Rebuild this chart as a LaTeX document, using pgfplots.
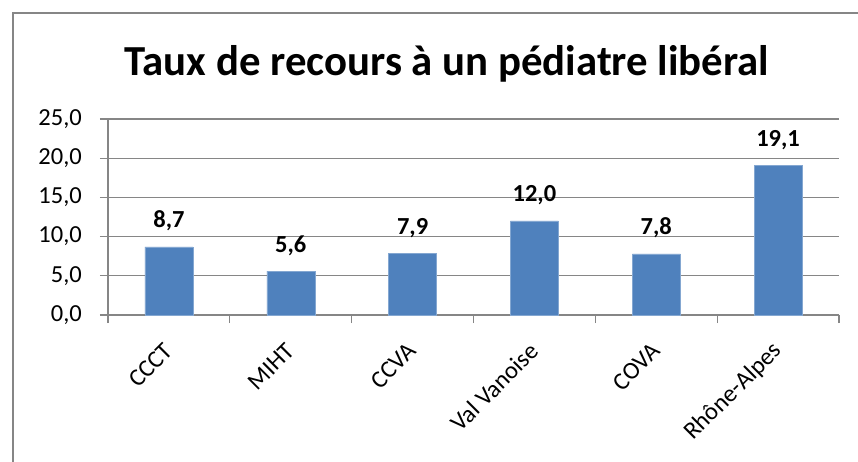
\documentclass[border=0pt]{standalone}
\usepackage{fontspec}
\setmainfont{Carlito}
\usepackage{pgfplots}
\pgfplotsset{compat=1.18}
\definecolor{barblue}{HTML}{4F81BD}
\definecolor{axgray}{HTML}{868686}
\begin{document}
\begin{tikzpicture}
\draw[axgray, line width=1.5pt] (13pt,-20pt) -- (13pt,448pt) -- (870pt,448pt);
\node[font=\bfseries\fontsize{42.8}{50}\selectfont, anchor=base] at (447pt,385pt) {Taux de recours à un pédiatre libéral};
\begin{axis}[
  at={(108pt,146pt)}, anchor=south west,
  scale only axis, width=731pt, height=196pt,
  xmin=-0.5, xmax=5.5, ymin=0, ymax=25,
  ytick={0,5,...,25},
  xtick={0,...,5},
  xticklabels={CCCT,MIHT,CCVA,Val Vanoise,COVA,Rhône-Alpes},
  minor xtick={-0.5,0.5,...,5.5},
  major x tick style={draw=none},
  minor x tick style={axgray, line width=1.2pt},
  minor tick length=8pt,
  major tick length=8pt,
  ytick style={axgray, line width=1.2pt},
  tick align=outside,
  axis lines*=left,
  axis line style={axgray, line width=1.2pt},
  ymajorgrids,
  grid style={axgray, line width=1.2pt},
  /pgf/number format/.cd, fixed, fixed zerofill, precision=1, use comma, assume math mode=true,
  /pgfplots/.cd,
  ticklabel style={font=\fontsize{24.5}{28}\selectfont},
  yticklabel style={anchor=east, inner sep=0pt, xshift=-18pt},
  xticklabel style={xshift=0pt, yshift=-24pt, rotate=45, anchor=east, inner sep=0pt},
  ybar, bar width=48pt,
  nodes near coords,
  every node near coord/.append style={font=\bfseries\fontsize{24.5}{28}\selectfont, anchor=base, inner sep=0pt, yshift=19pt, black},
  clip=false,
]
\addplot[fill=barblue, draw=barblue!70!white] coordinates {(0,8.7) (1,5.6) (2,7.9) (3,12.0) (4,7.8) (5,19.1)};
\end{axis}
\pgfresetboundingbox
\path[use as bounding box] (0,0) rectangle (858pt,461pt);
\end{tikzpicture}
\end{document}
